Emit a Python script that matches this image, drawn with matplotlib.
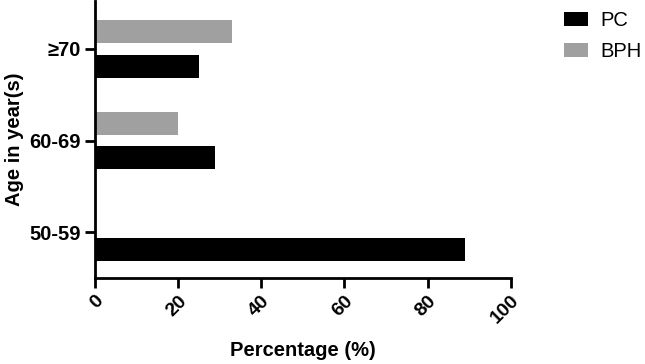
import numpy as np
import matplotlib
matplotlib.use("Agg")
import matplotlib.pyplot as plt

plt.rcParams['font.family'] = ['Liberation Sans', 'DejaVu Sans']

# Dane
groups = ['50-59', '60-69', '≥70']
pc = [89, 29, 25]
bph = [0, 20, 33]
x_ticks = [0, 20, 40, 60, 80, 100]

fig = plt.figure(figsize=(6.45, 3.64), dpi=100)
ax = fig.add_axes([0.147, 0.235, 0.645, 0.763])

y = np.arange(len(groups))
h = 0.25
off = 0.19
ax.barh(y - off, pc, height=h, color='black', label='PC')
ax.barh(y + off, bph, height=h, color='#a0a0a0', label='BPH')

ax.set_xlim(0, 100)
ax.set_ylim(-0.5, 2.52)
ax.set_xticks(x_ticks)
ax.set_xticklabels([str(t) for t in x_ticks], rotation=45, ha='right',
                   rotation_mode='anchor', fontweight='bold', fontsize=14)
ax.set_yticks(y)
ax.set_yticklabels(groups, fontweight='bold', fontsize=14.5)

for s in ['top', 'right']:
    ax.spines[s].set_visible(False)
for s in ['left', 'bottom']:
    ax.spines[s].set_linewidth(2)
ax.tick_params(axis='both', width=2, length=7, pad=3)

ax.set_xlabel('Percentage (%)', fontweight='bold', fontsize=14.5, labelpad=10)
ax.set_ylabel('Age in year(s)', fontweight='bold', fontsize=14.5, labelpad=4)

fig.legend(loc='upper left', bbox_to_anchor=(0.857, 1.0), frameon=False,
           fontsize=14.5, handlelength=1.2, handleheight=0.7,
           handletextpad=0.6, labelspacing=0.6, borderaxespad=0.15)

plt.savefig('out.png', dpi=100)
